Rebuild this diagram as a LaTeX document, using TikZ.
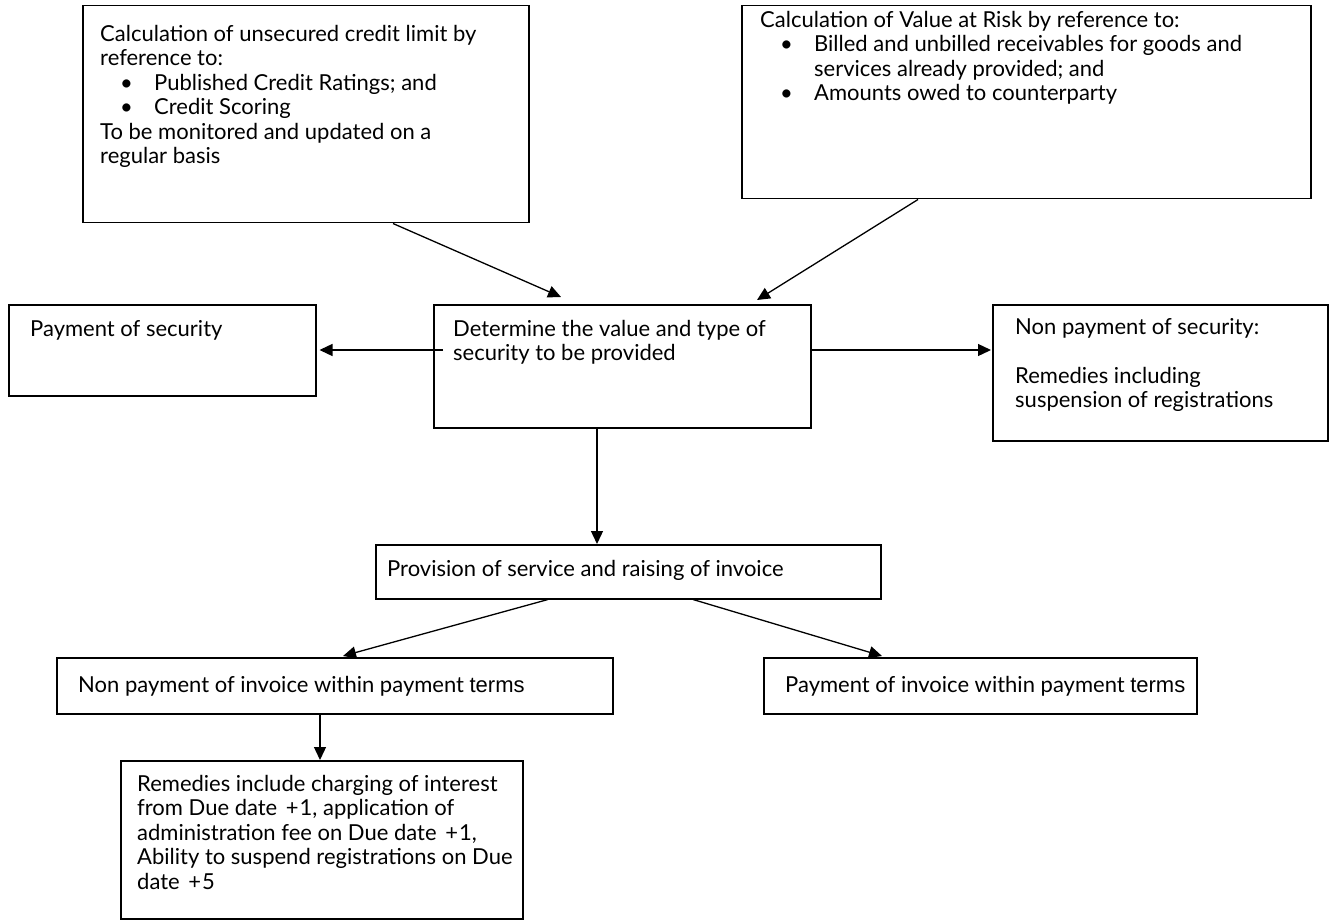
\documentclass[tikz,border=0pt]{standalone}
\usepackage{fontspec}
\setmainfont{Lato}
\newfontfamily\altfont{Liberation Sans}
\usetikzlibrary{arrows.meta}
\newcommand{\bul}{\hspace*{20pt}\makebox[34pt][l]{\textbullet}}
\newcommand{\bulind}{\hspace*{54pt}}
\begin{document}
\begin{tikzpicture}[x=1pt,y=-1pt,
  box/.style={draw, line width=1.5pt, rectangle, inner sep=0pt, anchor=north west},
  txt/.style={anchor=north west, inner sep=0pt, align=left, font=\fontsize{22}{24.5}\selectfont},
  arr/.style={-{Triangle[length=13pt,width=12pt]}, line width=1.3pt}]
\useasboundingbox (0,0) rectangle (1333,920);

% boxes
\node[box, minimum width=446pt, minimum height=217pt] (b1) at (82,5) {};
\node[box, minimum width=569pt, minimum height=193pt] (b2) at (741,5) {};
\node[box, minimum width=307pt, minimum height=91pt] (ps) at (8,304) {};
\node[box, minimum width=377pt, minimum height=123pt] (det) at (433,304) {};
\node[box, minimum width=335pt, minimum height=136pt] (nps) at (992,304) {};
\node[box, minimum width=505pt, minimum height=54pt] (prov) at (375,544) {};
\node[box, minimum width=556pt, minimum height=56pt] (npi) at (56,657) {};
\node[box, minimum width=433pt, minimum height=56pt] (pi) at (763,657) {};
\node[box, minimum width=402pt, minimum height=158pt] (rem) at (120,760) {};

% texts
\node[txt] (b1t) at (100,25) {Calculation of unsecured credit limit by\\
reference to:\\
\bul Published Credit Ratings; and\\
\bul Credit Scoring\\
To be monitored and updated on a\\
regular basis};
\node[txt] (b2t) at (760,11) {Calculation of Value at Risk by reference to:\\
\bul Billed and unbilled receivables for goods and\\
\bulind services already provided; and\\
\bul Amounts owed to counterparty};
\node[txt] (pst) at (30,320) {Payment of security};
\node[txt] (dett) at (453,320) {Determine the value and type of\\
security to be provided};
\node[txt] (npst) at (1015,318) {Non payment of security:\\[24.5pt]
Remedies including\\
suspension of registrations};
\node[txt] (provt) at (387,560) {Provision of service and raising of invoice};
\node[txt] (npit) at (78,676) {Non payment of invoice within payment {\altfont terms}};
\node[txt] (pit) at (785,676) {Payment of invoice within payment {\altfont terms}};
\node[txt] (remt) at (137,775) {Remedies include charging of interest\\
from Due date \hspace{3pt}+\hspace{1pt}1, application of\\
administration fee on Due date \hspace{3pt}+\hspace{1pt}1,\\
Ability to suspend registrations on Due\\
date \hspace{3pt}+\hspace{1pt}5};

% connectors
\draw[arr] ([shift={(311,0)}]b1.south west) -- ([shift={(128,-7)}]det.north west);
\draw[arr] ([shift={(177,0)}]b2.south west) -- ([shift={(324,-4)}]det.north west);
\draw[arr] ([shift={(10,46)}]det.north west) -- ([shift={(3,46)}]ps.north east);
\draw[arr] ([shift={(0,46)}]det.north east) -- ([shift={(-1,46)}]nps.north west);
\draw[arr] ([shift={(164,0)}]det.south west) -- ([shift={(222,0)}]prov.north west);
\draw[arr] ([shift={(173,0)}]prov.south west) -- ([shift={(287,-1)}]npi.north west);
\draw[arr] ([shift={(318,0)}]prov.south west) -- ([shift={(119,-1)}]pi.north west);
\draw[arr] ([shift={(264,0)}]npi.south west) -- ([shift={(200,0)}]rem.north west);
\end{tikzpicture}
\end{document}
